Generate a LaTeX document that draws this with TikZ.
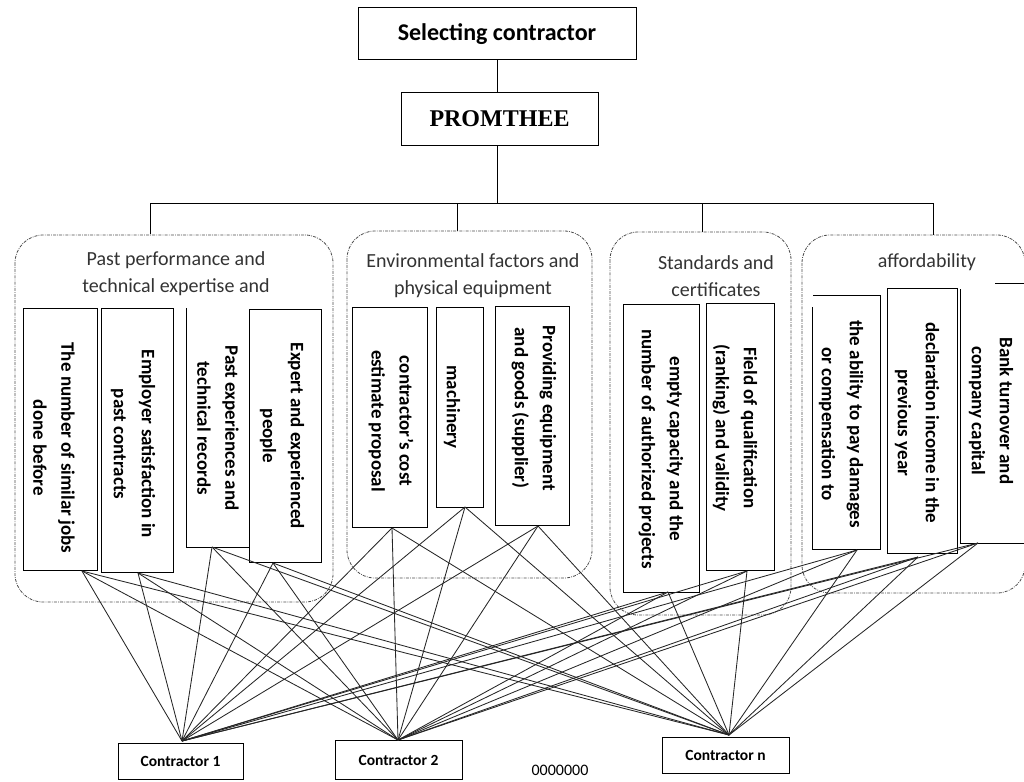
\documentclass[tikz,border=0pt]{standalone}
\usepackage{fontspec}
\setmainfont{Carlito}
\newfontfamily\serifbold{Liberation Serif}
\begin{document}
\begin{tikzpicture}[x=1pt,y=-1pt,
  topbox/.style={draw, line width=1pt, inner sep=0pt},
  grp/.style={draw=black!70, line width=0.8pt, rounded corners=28pt,
    dash pattern=on 3pt off 1.2pt on 0.8pt off 1.2pt},
  critbox/.style={draw, fill=white, line width=1pt, inner sep=0pt},
  crittext/.style={rotate=-90, align=center, inner sep=0pt,
    font=\bfseries\fontsize{19}{28}\selectfont},
  heading/.style={align=center, inner sep=0pt, text=black!80,
    font=\fontsize{20}{27}\selectfont},
  contr/.style={draw, line width=1pt, inner sep=0pt,
    font=\bfseries\fontsize{15.5}{18}\selectfont},
  conn/.style={line width=0.85pt, black!85},
  tree/.style={line width=1pt}]
\useasboundingbox (0,0) rectangle (1024,781);

% top of hierarchy
\node[topbox, minimum width=278pt, minimum height=52pt,
  font=\bfseries\fontsize{24}{28}\selectfont] (sel) at (497,34) {Selecting contractor};
\node[topbox, minimum width=197pt, minimum height=52pt,
  font=\serifbold\bfseries\fontsize{24}{28}\selectfont] (prom) at (499.5,119) {PROMTHEE};
\coordinate (hub) at (497,203);
\coordinate (d1) at (150,234);
\coordinate (d2) at (457,231);
\coordinate (d3) at (702,232);
\coordinate (d4) at (933,235);
\draw[tree] (sel.south -| hub) -- (prom.north -| hub);
\draw[tree] (prom.south -| hub) -- (hub);
\draw[tree] (d1 |- hub) -- (d4 |- hub);
\foreach \d in {d1,d2,d3,d4} \draw[tree] (\d |- hub) -- (\d);

% groups
\draw[grp] (15,235) rectangle (333,602);
\draw[grp] (347,231) rectangle (592,578);
\draw[grp] (610,232) rectangle (791,615);
\draw[grp] (802,235) rectangle (1025,593);

\node[heading] (h1) at (176,273.5) {Past performance and\\technical expertise and};
\node[heading] (h2) at (473,275.5) {Environmental factors and\\physical equipment};
\node[heading] (h3) at (716,276.5) {Standards and\\certificates};
\node[heading] (h4) at (927,262) {affordability};

% group 1 criteria
\node[critbox, minimum width=74pt, minimum height=262pt] (A) at (60,439) {};
\node[critbox, minimum width=72pt, minimum height=264pt] (B) at (137,440) {};
\draw[line width=1pt] (186,308) -- (186,547) -- (250,547);
\node[critbox, minimum width=72pt, minimum height=253pt] (D) at (285,435.5) {};
\node[crittext] (tA) at (54,448) {The number of similar jobs\\done before};
\node[crittext] (tB) at (133,444) {Employer satisfaction in\\past contracts};
\node[crittext] (tC) at (218,428) {Past experiences and\\technical records};
\node[crittext] (tD) at (282,436) {Expert and experienced\\people};

% group 2 criteria
\node[critbox, minimum width=75pt, minimum height=220pt] (E) at (389.5,417) {};
\node[critbox, minimum width=47pt, minimum height=200pt] (F) at (459.5,407) {};
\node[critbox, minimum width=74pt, minimum height=219pt] (G) at (532,415.5) {};
\node[crittext] (tE) at (391,421) {contractor's cost\\estimate proposal};
\node[crittext] (tF) at (452,407) {machinery};
\node[crittext] (tG) at (534,408) {Providing equipment\\and goods (supplier)};

% group 3 criteria
\node[critbox, minimum width=76pt, minimum height=288pt] (H) at (661,448) {};
\node[critbox, minimum width=68pt, minimum height=267pt] (I) at (740,436.5) {};
\node[crittext] (tH) at (661,449) {empty capacity and the\\number of authorized projects};
\node[crittext] (tI) at (735,428) {Field of qualification\\(ranking) and validity};

% group 4 criteria
\draw[line width=1pt, fill=white] (812,307) -- (812,549) -- (880,549) -- (880,295) -- (813,295);
\node[critbox, minimum width=70pt, minimum height=265pt] (K) at (922,420.5) {};
\draw[line width=1pt, fill=white] (1030,283) -- (995,283);
\draw[line width=1pt, fill=white] (960,289) -- (960,543) -- (1030,543);
\node[crittext] (tJ) at (841,424) {the ability to pay damages\\or compensation to};
\node[crittext] (tK) at (917,423) {declaration income in the\\previous year};
\node[crittext] (tL) at (991,411) {Bank turnover and\\company capital};

% contractors
\node[contr, minimum width=125pt, minimum height=36pt] (C1) at (180.5,761) {Contractor 1};
\node[contr, minimum width=127pt, minimum height=39pt] (C2) at (398.5,760) {Contractor 2};
\node[contr, minimum width=127pt, minimum height=36pt] (Cn) at (725.5,755) {Contractor n};
\node[inner sep=0pt, font=\fontsize{16}{18}\selectfont] (dots) at (560,770) {0000000};

% anchor points of criteria
\coordinate (pA) at (82,571);
\coordinate (pB) at (138,573);
\coordinate (pC) at (212,547);
\coordinate (pD) at (273,563);
\coordinate (pE) at (392,528);
\coordinate (pF) at (465,507);
\coordinate (pG) at (538,526);
\coordinate (pH) at (668,592);
\coordinate (pI) at (747,571);
\coordinate (pJ) at (857,550);
\coordinate (pK) at (918,557);
\coordinate (pL) at (978,543);
\coordinate (q1) at (182,741);
\coordinate (q2) at (398,740);
\coordinate (qn) at (729,735);

\foreach \s in {pA,pB,pC,pD,pE,pF,pG,pH,pI,pJ,pK,pL}
  \foreach \t in {q1,q2,qn}
    \draw[conn] (\s) -- (\t);
\end{tikzpicture}
\end{document}
